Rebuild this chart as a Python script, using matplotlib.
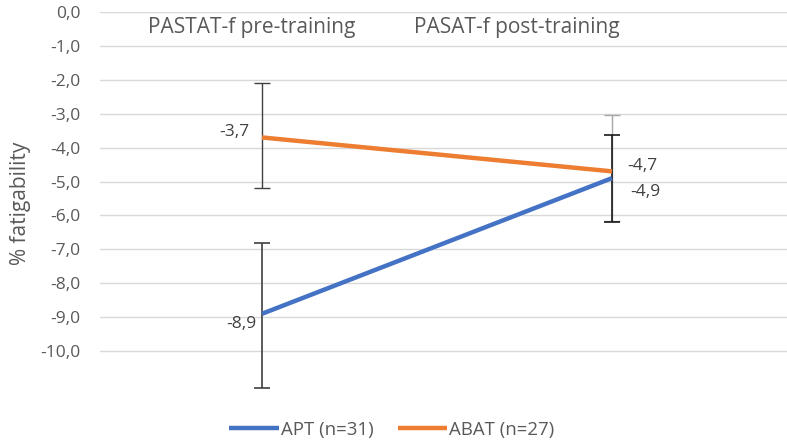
import matplotlib
matplotlib.use("Agg")
import matplotlib.pyplot as plt
from matplotlib.ticker import FuncFormatter, FixedLocator

# Datos
categories = ["PASTAT-f pre-training", "PASAT-f post-training"]
apt_vals = [-8.9, -4.9]
abat_vals = [-3.7, -4.7]
apt_err_lo = [2.2, 1.3]
apt_err_hi = [2.1, 1.27]
abat_err_lo = [1.5, 1.46]
abat_err_hi = [1.6, 1.66]
series_names = ["APT (n=31)", "ABAT (n=27)"]
yticks = [0, -1, -2, -3, -4, -5, -6, -7, -8, -9, -10]

blue = "#4472C4"
orange = "#ED7D31"
txt = "#595959"

plt.rcParams["font.family"] = ["Open Sans", "DejaVu Sans"]

fig = plt.figure(figsize=(7.87, 4.44), dpi=100)
ax = fig.add_axes([0.127, 0.11, 0.873, 0.863])

x = list(range(len(categories)))

# Barras de error (colores por punto)
err_cols_apt = ["#404040", "#1a1a1a"]
err_cols_abat = ["#404040", "#a6a6a6"]
for i in x:
    ax.errorbar(x[i], abat_vals[i], yerr=[[abat_err_lo[i]], [abat_err_hi[i]]], fmt="none",
                ecolor=err_cols_abat[i], elinewidth=1.0, capsize=6, capthick=1.0, zorder=2)
for i in x:
    ax.errorbar(x[i], apt_vals[i], yerr=[[apt_err_lo[i]], [apt_err_hi[i]]], fmt="none",
                ecolor=err_cols_apt[i], elinewidth=1.2, capsize=6, capthick=1.2, zorder=3)

l1, = ax.plot(x, apt_vals, color=blue, lw=3.2, solid_capstyle="butt", zorder=4, label=series_names[0])
l2, = ax.plot(x, abat_vals, color=orange, lw=3.2, solid_capstyle="butt", zorder=4, label=series_names[1])

fmt = lambda v: f"{v:.1f}".replace(".", ",")

# Etiquetas de datos
ax.annotate(fmt(abat_vals[0]), (x[0], abat_vals[0]), xytext=(-9, 4), textcoords="offset points",
            ha="right", va="center", fontsize=12.5, color="#404040")
ax.annotate(fmt(apt_vals[0]), (x[0], apt_vals[0]), xytext=(-4, -7), textcoords="offset points",
            ha="right", va="center", fontsize=12.5, color="#404040")
ax.annotate(fmt(abat_vals[1]), (x[1], abat_vals[1]), xytext=(11, 4), textcoords="offset points",
            ha="left", va="center", fontsize=12.5, color="#404040")
ax.annotate(fmt(apt_vals[1]), (x[1], apt_vals[1]), xytext=(13, -10), textcoords="offset points",
            ha="left", va="center", fontsize=12.5, color="#404040")

# Etiquetas de categoria (arriba, dentro del area)
cat_shift = [-0.03, -0.271]
for i, c in enumerate(categories):
    ax.text(x[i] + cat_shift[i], -0.45, c, ha="center", va="center", fontsize=15, color=txt)

ax.set_xlim(-0.463, 1.5)
ax.set_ylim(-11.3, 0)
ax.yaxis.set_major_locator(FixedLocator(yticks))
ax.yaxis.set_major_formatter(FuncFormatter(lambda v, p: fmt(v)))
ax.set_xticks([])
ax.tick_params(axis="y", length=0, pad=14, labelsize=12.5, labelcolor=txt)
ax.grid(axis="y", color="#d9d9d9", lw=1.0)
ax.set_axisbelow(True)
for s in ax.spines.values():
    s.set_visible(False)
ax.set_ylabel("% fatigability", fontsize=15, color=txt, labelpad=7)

fig.legend(handles=[l1, l2], loc="center", bbox_to_anchor=(0.498, 0.032), ncol=2, frameon=False,
           fontsize=13.4, labelcolor=txt, handlelength=2.65, handletextpad=0.12, columnspacing=1.3)

fig.savefig("out.png", dpi=100)
